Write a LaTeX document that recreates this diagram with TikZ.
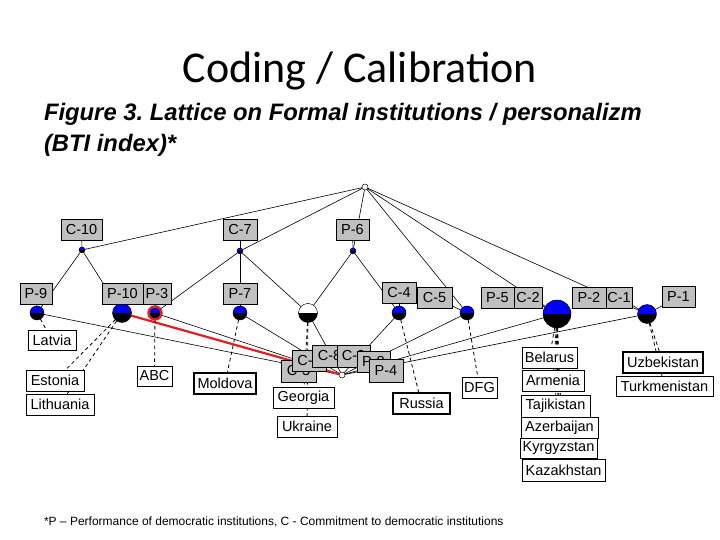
\documentclass[tikz,border=0pt]{standalone}
\usepackage{fontspec}
\setmainfont{Liberation Sans}
\newfontfamily\titlefont{Carlito}
\definecolor{boxgray}{RGB}{192,192,192}
\definecolor{nodeblue}{RGB}{0,0,255}
\definecolor{hlred}{RGB}{228,30,30}
\pgfdeclarelayer{bg}
\pgfsetlayers{bg,main}
\frenchspacing
\begin{document}
\begin{tikzpicture}[x=1pt,y=-1pt,
  every node/.style={inner sep=0pt, outer sep=0pt},
  lab/.style={font=\fontsize{14.5}{15}\selectfont, minimum height=21pt},
  gbox/.style={lab, draw=black, line width=0.6pt, fill=boxgray},
  obox/.style={lab, draw=black, line width=0.6pt, fill=white},
  tobox/.style={obox, line width=1.3pt},
  cnode/.style={circle, draw=black, line width=0.4pt, fill=black, minimum size=#1,
    path picture={\fill[nodeblue] (path picture bounding box.north west) rectangle (path picture bounding box.east);}},
  wnode/.style={circle, draw=black, line width=0.4pt, fill=black, minimum size=#1,
    path picture={\fill[white] (path picture bounding box.north west) rectangle (path picture bounding box.east);}},
  tnode/.style={circle, draw=black, line width=0.5pt, fill=white, minimum size=6pt},
  latline/.style={draw=black, line width=0.6pt},
  objline/.style={draw=black, line width=0.8pt, dash pattern=on 3.5pt off 3pt},
  redline/.style={draw=hlred, line width=2.2pt}
]
\useasboundingbox (0,0) rectangle (720,540);

% titles
\node[anchor=base] (title) at (360,83) {\titlefont\fontsize{44}{44}\selectfont Coding / Calibration};
\node[anchor=base west] (sub1) at (44,121) {\fontsize{23.8}{24}\selectfont\bfseries\itshape Figure 3. Lattice on Formal institutions / personalizm};
\node[anchor=base west] (sub2) at (44,152) {\fontsize{23.8}{24}\selectfont\bfseries\itshape (BTI index)*};
\node[anchor=base west] (foot) at (44,525) {\fontsize{12}{12}\selectfont *P -- Performance of democratic institutions, C - Commitment to democratic institutions};

% lattice nodes
\node[tnode] (top) at (365,187) {};
\node[cnode=6pt] (n10c) at (82,250) {};
\node[cnode=6pt] (n7c) at (240,251) {};
\node[cnode=6pt] (n6p) at (353,251) {};
\node[cnode=14pt] (n9p) at (37,313) {};
\node[cnode=19pt] (n10p) at (122,313) {};
\node[cnode=13pt, draw=hlred, line width=2.4pt] (n3p) at (155,313) {};
\node[cnode=14pt] (n7p) at (240,313) {};
\node[wnode=19pt] (nhalf) at (308,313) {};
\node[cnode=14pt] (n4c) at (399,313) {};
\node[cnode=14pt] (n5c) at (467,313) {};
\node[cnode=28pt] (nbig) at (557,314) {};
\node[cnode=19pt] (n1p) at (647,314) {};
\node[tnode] (bot) at (342,375) {};

% attribute labels
\node[gbox, minimum width=41pt] (lc10) at (81.5,230) {C-10};
\node[gbox, minimum width=34pt] (lc7) at (240,230) {C-7};
\node[gbox, minimum width=33pt] (lp6) at (352.5,230) {P-6};
\node[gbox, minimum width=32pt] (lp9) at (36,293.5) {P-9};
\node[gbox, minimum width=41pt] (lp10) at (122.5,293.5) {P-10};
\node[gbox, minimum width=28pt] (lp3) at (157,293.5) {P-3};
\node[gbox, minimum width=34pt] (lp7) at (240,293.5) {P-7};
\node[gbox, minimum width=34pt, line width=0.9pt] (lc4) at (399,293) {C-4};
\node[gbox, minimum width=35pt] (lc5) at (434.5,297.5) {C-5};
\node[gbox, minimum width=33pt] (lp5) at (497.5,297.5) {P-5};
\node[gbox, minimum width=28pt] (lc2) at (528,297.5) {C-2};
\node[gbox, minimum width=34pt] (lp2) at (589,297.5) {P-2};
\node[gbox, minimum width=26pt] (lc1) at (619,297.5) {C-1};
\node[gbox, minimum width=33pt] (lp1) at (678.5,297) {P-1};

% bottom cluster
\node[gbox, minimum width=35pt, minimum height=22pt] (lc3) at (298.5,371) {C-3};
\node[gbox, minimum width=34pt] (lc6) at (309,360.5) {C-6};
\node[gbox, minimum width=35pt, minimum height=22pt] (lc8) at (329.5,356) {C-8};
\node[gbox, minimum width=33pt, minimum height=22pt] (lc9) at (353.5,356) {C-9};
\node[gbox, minimum width=33pt] (lp8) at (373.5,361.5) {P-8};
\node[gbox, minimum width=34pt, minimum height=23pt] (lp4) at (386,370.5) {P-4};

% object labels
\node[obox, minimum width=48pt, minimum height=20pt] (latvia) at (52,340) {Latvia};
\node[obox, minimum width=58pt] (estonia) at (55,380.5) {Estonia};
\node[obox, minimum width=68pt] (lithuania) at (60,404.5) {Lithuania};
\node[obox, minimum width=35pt, minimum height=20pt] (abc) at (154.5,376) {ABC};
\node[tobox, minimum width=62pt] (moldova) at (225,383.5) {Moldova};
\node[obox, minimum width=61pt] (georgia) at (303.5,397.5) {Georgia};
\node[obox, minimum width=60pt] (ukraine) at (307,426.5) {Ukraine};
\node[tobox, minimum width=57pt] (russia) at (421.5,403.5) {Russia};
\node[obox, minimum width=35pt] (dfg) at (479.5,387.5) {DFG};
\node[obox, minimum width=55pt] (belarus) at (549.5,357.5) {Belarus};
\node[obox, minimum width=62pt] (armenia) at (553,380.5) {Armenia};
\node[obox, minimum width=69pt, minimum height=22pt] (tajik) at (555.5,406) {Tajikistan};
\node[obox, minimum width=77pt] (azer) at (559.5,427.5) {Azerbaijan};
\node[obox, minimum width=77pt, minimum height=20pt] (kyrg) at (558.5,448) {Kyrgyzstan};
\node[obox, minimum width=83pt, minimum height=22pt] (kazakh) at (563.5,470) {Kazakhstan};
\node[tobox, minimum width=80pt] (uzbek) at (663,362.5) {Uzbekistan};
\node[obox, minimum width=97pt, minimum height=20pt] (turkmen) at (664.5,386) {Turkmenistan};

\begin{pgfonlayer}{bg}
% lattice edges
\foreach \a/\b in {top/n10c, top/n7c, top/n6p, top/n5c, top/nbig, top/n1p,
  n10c/n9p, n10c/n10p, n7c/n3p, n7c/n7p, n7c/nhalf, n6p/nhalf, n6p/n4c,
  n9p/bot, n3p/bot, n7p/bot, nhalf/bot, n4c/bot, n5c/bot, nbig/bot, n1p/bot}
  \draw[latline] (\a) -- (\b);
\draw[redline] (n10p) -- (bot);
% label connectors
\foreach \a/\b in {lc10/n10c, lc7/n7c, lp6/n6p, lp9/n9p, lp10/n10p, lp3/n3p,
  lp7/n7p, lc4/n4c, lc5/n5c, lc2/nbig, lc1/n1p, lp1/n1p}
  \draw[latline] (\a) -- (\b);
% object connectors
\foreach \a/\b in {n9p/latvia, n10p/estonia, n10p/lithuania, n3p/abc, n7p/moldova,
  nhalf/georgia, nhalf/ukraine, n4c/russia, n5c/dfg,
  nbig/belarus, nbig/armenia, nbig/tajik, nbig/azer, nbig/kyrg, nbig/kazakh,
  n1p/uzbek, n1p/turkmen}
  \draw[objline] (\a) -- (\b);
\end{pgfonlayer}
\end{tikzpicture}
\end{document}
